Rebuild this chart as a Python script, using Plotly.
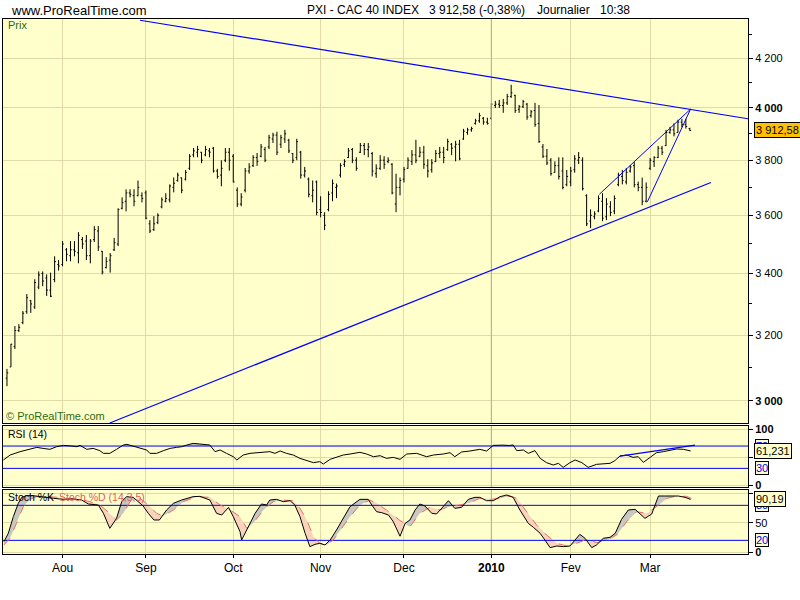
import numpy as np
import plotly.graph_objects as go

# ---------------- data (trading-day index 0 = mid-July 2009 ... 172 = mid-March 2010)
open_ = [3068,3102,3165,3215,3240,3275,3310,3290,3355,3400,3385,3345,3380,3430,3430,3480,3460,3480,3470,3515,
         3510,3460,3515,3545,3475,3420,3445,3480,3500,3625,3650,3680,3670,3670,3670,3680,3570,3550,3575,3630,
         3650,3655,3700,3725,3735,3730,3770,3820,3830,3830,3820,3835,3845,3760,3745,3800,3830,3815,3690,3640,
         3690,3760,3780,3810,3815,3840,3850,3880,3895,3860,3880,3875,3825,3810,3830,3745,3730,3670,3720,3620,
         3600,3620,3680,3700,3745,3785,3810,3840,3800,3830,3855,3840,3825,3750,3770,3800,3795,3785,3640,3700,
         3730,3770,3795,3820,3815,3830,3780,3765,3795,3825,3830,3840,3860,3850,3860,3880,3905,3915,3940,3950,
         3960,3945,3960,4010,4015,4010,4020,4045,4050,3995,4005,4015,3970,3990,3940,3850,3815,3800,3755,3780,
         3760,3710,3720,3765,3800,3800,3670,3580,3595,3615,3650,3595,3630,3615,3710,3740,3720,3760,3780,3710,
         3700,3650,3770,3795,3810,3845,3855,3905,3915,3905,3945,3935,3920]
high = [3096,3173,3229,3235,3277,3332,3313,3381,3407,3407,3397,3403,3458,3445,3510,3486,3510,3510,3541,3524,
        3531,3517,3562,3562,3476,3455,3469,3521,3625,3664,3693,3693,3693,3725,3682,3689,3583,3597,3607,3664,
        3679,3711,3736,3754,3736,3764,3823,3846,3854,3831,3854,3846,3850,3768,3800,3846,3846,3823,3700,3679,
        3771,3789,3819,3827,3861,3850,3896,3904,3908,3896,3915,3881,3827,3881,3835,3775,3736,3725,3725,3668,
        3611,3686,3729,3714,3789,3804,3846,3846,3811,3865,3865,3865,3831,3785,3819,3815,3811,3789,3750,3736,
        3775,3811,3838,3877,3850,3854,3804,3804,3838,3850,3850,3881,3865,3873,3877,3919,3923,3927,3958,3981,
        3965,3962,4020,4028,4032,4036,4056,4092,4052,4012,4032,4020,3992,4020,4012,3861,3842,3808,3796,3811,
        3811,3764,3775,3819,3831,3811,3675,3621,3614,3671,3679,3661,3650,3671,3754,3764,3771,3782,3793,3721,
        3736,3718,3808,3815,3854,3854,3915,3927,3940,3954,3958,3958,3923]
low = [3044,3102,3157,3210,3235,3268,3271,3284,3348,3358,3326,3322,3371,3410,3424,3441,3441,3458,3434,3483,
       3445,3434,3507,3476,3397,3417,3403,3476,3493,3621,3614,3664,3632,3668,3646,3586,3538,3545,3569,3625,
       3646,3646,3682,3721,3679,3725,3764,3811,3811,3789,3815,3811,3754,3732,3704,3793,3761,3718,3629,3632,
       3682,3750,3775,3779,3811,3793,3842,3865,3819,3846,3865,3827,3789,3800,3732,3736,3664,3646,3600,3593,
       3548,3614,3650,3661,3736,3775,3808,3789,3761,3827,3819,3811,3740,3735,3764,3768,3789,3675,3611,3671,
       3718,3768,3782,3789,3811,3768,3736,3754,3793,3808,3789,3835,3819,3796,3800,3877,3896,3908,3935,3942,
       3935,3935,3954,4000,4000,3981,4012,4040,3981,3981,4000,3954,3962,3927,3865,3808,3782,3743,3754,3729,
       3693,3704,3704,3754,3786,3689,3562,3555,3586,3611,3579,3583,3597,3604,3704,3711,3711,3754,3700,3686,
       3636,3646,3764,3775,3808,3819,3854,3900,3890,3905,3925,3920,3911]
close = [3084,3172,3215,3225,3270,3320,3300,3370,3395,3375,3345,3325,3440,3425,3500,3465,3480,3475,3530,3500,
         3460,3510,3550,3490,3405,3440,3460,3505,3620,3645,3680,3675,3650,3700,3660,3590,3545,3570,3600,3655,
         3660,3705,3715,3745,3690,3755,3815,3835,3840,3800,3840,3830,3760,3740,3770,3830,3800,3720,3640,3665,
         3760,3775,3810,3795,3850,3800,3885,3895,3830,3885,3900,3835,3800,3870,3745,3760,3675,3690,3610,3610,
         3565,3675,3715,3705,3780,3795,3835,3800,3770,3855,3840,3850,3760,3770,3800,3785,3800,3680,3700,3725,
         3765,3800,3820,3800,3830,3785,3760,3790,3825,3830,3810,3870,3845,3860,3805,3910,3915,3920,3950,3970,
         3945,3940,4015,4015,4010,4020,4045,4060,3990,4005,4025,3965,3985,3935,3870,3815,3790,3750,3780,3740,
         3700,3740,3760,3805,3810,3695,3570,3600,3605,3660,3590,3640,3610,3660,3745,3725,3755,3775,3710,3700,
         3650,3700,3800,3810,3845,3830,3905,3915,3900,3945,3935,3928,3912.58]
day_index = list(range(len(close)))

month_idx = [14, 35, 57, 79, 100, 122, 142, 162]
month_lbl = ["Aou", "Sep", "Oct", "Nov", "Dec", "2010", "Fev", "Mar"]
year_idx = 122

price_ticks = [3000, 3200, 3400, 3600, 3800, 4000, 4200]
price_bold = [3000, 4000]
price_minor = [3100, 3300, 3500, 3700, 3900, 4100, 4300]

# hand-drawn trend lines (index, price)
down_line_x = [33.5, 186.65]
down_line_y = [4360, 3958]
up_line_x = [25.9, 177.3]
up_line_y = [2936, 3718]
wedge_top_x = [149.2, 172.2]
wedge_top_y = [3675, 3996]
wedge_bot_x = [161.3, 172.2]
wedge_bot_y = [3648, 3996]

# RSI(14)
rsi_x = [-0.9,0.8,3.3,5.8,7.5,9.1,10.8,12.5,14.2,15.9,17.6,18.4,20.1,21.7,23.4,24.3,25.9,27.6,29.3,30.2,
         31.8,33.5,35.2,36.0,37.7,39.4,41.1,42.7,44.0,45.3,46.9,48.6,51.1,52.4,53.7,55.3,57.0,57.9,59.5,61.2,
         62.9,64.6,66.2,67.5,68.8,70.4,72.1,73.8,75.5,77.2,78.8,79.7,81.4,83.0,84.7,86.4,88.9,90.6,92.3,94.0,
         95.6,97.3,99.0,100.7,103.2,105.7,107.4,109.9,111.6,112.8,114.5,116.6,119.1,120.8,122.5,125.0,126.5,127.5,128.4,130.1,
         131.3,133.0,134.3,135.9,137.6,138.9,140.1,141.8,143.1,144.8,146.4,148.5,150.2,151.9,153.1,154.4,156.1,157.7,159.0,160.3,
         162.0,163.6,165.3,167.0,168.7,170.4,172.2]
rsi_v = [45.0,53.9,59.9,64.1,67.6,65.8,64.1,68.8,71.2,70.3,68.8,71.2,64.1,65.8,61.7,56.9,56.9,64.1,71.8,73.0,
         70.0,65.8,62.9,56.9,56.9,61.7,65.8,67.6,68.8,71.8,74.8,73.6,71.8,59.9,62.9,56.9,50.9,45.0,53.9,56.9,
         58.1,58.7,59.9,56.9,61.1,56.9,53.9,47.9,43.8,40.2,42.0,37.8,46.2,49.7,53.9,55.7,58.7,55.7,50.9,52.7,
         47.9,49.7,46.2,55.7,56.9,50.9,53.9,55.7,58.1,50.9,59.3,61.1,64.1,61.1,71.2,71.6,71.0,72.0,61.7,62.9,
         56.9,61.7,47.9,40.2,36.0,39.0,31.8,40.2,45.0,40.2,31.8,37.2,37.8,39.0,43.8,52.1,53.9,49.7,50.9,40.8,
         49.7,58.1,59.9,61.7,64.7,64.1,61.231]
rsi_trend_x = [154.4, 173.3]
rsi_trend_y = [52.1, 71.8]
rsi_levels = [70, 30]

# Stochastic %K / %D (14,3,5)
stk_x = [-0.76,0.34,1.6,2.85,3.7,4.95,6.6,9.15,11.7,14.2,16.7,18.8,20.5,23.0,24.3,25.9,27.6,28.9,30.1,31.8,
         32.7,34.3,35.6,37.0,38.4,40.2,41.9,44.0,46.9,48.6,51.1,52.8,54.1,55.8,57.0,58.7,59.1,60.8,62.5,64.1,
         65.4,66.2,67.9,69.6,71.3,72.5,73.8,75.1,76.3,77.6,78.8,80.1,81.4,83.0,84.7,86.4,88.9,91.0,91.9,93.1,
         94.4,96.1,97.3,99.0,100.3,101.5,102.8,104.0,105.3,107.0,108.2,109.9,111.2,112.8,114.5,116.2,117.9,119.1,120.8,122.5,
         124.2,125.9,127.5,129.2,131.3,132.6,134.3,135.5,136.8,138.5,140.2,141.8,142.7,144.3,145.6,147.3,148.5,150.2,151.9,153.2,
         154.8,156.5,158.2,159.4,160.7,162.4,164.1,165.7,167.4,169.1,170.8,172.2]
stk_v = [17.8,32.0,60.6,83.4,93.7,96.6,96.6,93.7,92.0,90.3,90.9,89.1,82.3,80.6,66.3,40.6,57.7,86.3,94.9,93.7,
         88.0,78.9,66.3,54.9,54.9,72.0,83.4,89.1,94.9,95.4,89.1,66.3,63.4,76.6,60.6,34.9,20.6,43.4,66.3,82.3,
         80.6,89.1,90.3,86.3,88.0,80.6,60.6,32.0,9.2,13.2,14.9,12.1,20.6,37.7,57.7,77.7,90.3,90.3,80.6,69.1,
         67.4,63.4,52.0,27.0,49.2,54.9,72.0,82.3,78.9,66.3,65.2,77.7,88.0,74.9,76.6,90.3,93.7,93.7,88.0,88.0,
         94.9,97.7,93.7,72.0,49.2,42.3,32.0,20.6,7.5,10.3,9.2,10.3,17.8,30.3,23.5,7.5,12.1,23.5,25.2,32.0,
         56.0,72.0,73.2,66.3,57.7,65.2,96.0,96.0,96.0,96.0,93.7,90.19]
std_x = [-0.76,0.76,2.4,4.1,5.8,7.5,10.8,15.0,18.4,20.9,23.4,25.9,27.6,29.3,31.0,33.5,35.6,37.7,39.4,41.9,
         44.4,47.8,51.1,53.7,56.2,58.7,60.4,62.0,64.6,67.1,69.6,72.1,73.8,75.5,77.2,78.8,80.5,82.2,83.9,86.4,
         88.9,91.4,93.1,95.6,99.0,101.5,104.0,106.5,109.1,111.6,114.1,116.6,119.1,121.7,124.2,126.7,128.4,130.9,133.4,135.9,
         138.5,141.0,143.5,146.0,148.5,151.1,153.6,156.1,158.6,161.1,163.6,166.2,168.7,171.2,172.4]
std_v = [12.1,23.5,49.2,77.7,90.3,94.9,94.9,92.0,90.3,86.3,80.6,66.3,54.9,66.3,86.3,92.0,80.6,66.3,61.7,72.0,
         86.3,94.9,93.7,80.6,72.0,60.6,40.6,49.2,72.0,86.3,89.1,88.0,74.9,54.9,26.3,14.9,12.1,20.6,37.7,60.6,
         80.6,89.1,83.4,72.0,54.0,43.5,66.3,76.6,72.0,78.9,80.6,84.6,92.0,90.3,92.0,96.0,92.0,69.1,46.3,29.2,
         14.9,10.3,14.9,21.8,16.1,20.6,29.2,52.0,69.1,66.3,77.7,92.0,96.0,95.4,92.0]
stoch_levels = [80, 20]

last_price = close[-1]
last_rsi = rsi_v[-1]
last_stoch = stk_v[-1]
title_parts = ["PXI - CAC 40 INDEX", "3 912,58 (-0,38%)", "Journalier", "10:38"]

# ---------------- styling / geometry
BG = "#FFFFCC"
GRID = "#E0DAA6"
YEARGRID = "#B2AC82"
BLUE = "#0000FF"
GREEN = "#2E6B10"
FONT = "Liberation Sans, Arial, sans-serif"

X_DOM = [3 / 800, 748 / 800]
Y1 = [1 - 423 / 600, 1 - 19 / 600]
Y2 = [1 - 487 / 600, 1 - 426 / 600]
Y3 = [1 - 554 / 600, 1 - 490 / 600]
XR = [-1.0, 186.65]
PR = [3.46773, 3.64001]   # log10 price range
RR = [-3.4, 105.9]
SR = [-3.4, 106.3]


def px(x):
    return x / 800


def py(y):
    return 1 - y / 600


def fmt_fr(v, d):
    s = f"{v:,.{d}f}"
    return s.replace(",", " ").replace(".", ",")


def fill_above(xs, ys, level):
    X = [xs[0]]
    Y = [max(ys[0], level)]
    for k in range(1, len(xs)):
        d0 = ys[k - 1] - level
        d1 = ys[k] - level
        if d0 * d1 < 0:
            t = d0 / (d0 - d1)
            X.append(xs[k - 1] + t * (xs[k] - xs[k - 1]))
            Y.append(level)
        X.append(xs[k])
        Y.append(max(ys[k], level))
    return X, Y


def between(xa, ya, xb, yb):
    xs = np.union1d(xa, xb)
    xs = xs[(xs >= max(min(xa), min(xb))) & (xs <= min(max(xa), max(xb)))]
    a = np.interp(xs, xa, ya)
    b = np.interp(xs, xb, yb)
    X, A, B = [xs[0]], [a[0]], [b[0]]
    for k in range(1, len(xs)):
        d0 = a[k - 1] - b[k - 1]
        d1 = a[k] - b[k]
        if d0 * d1 < 0:
            t = d0 / (d0 - d1)
            xc = xs[k - 1] + t * (xs[k] - xs[k - 1])
            yc = a[k - 1] + t * (a[k] - a[k - 1])
            X.append(xc); A.append(yc); B.append(yc)
        X.append(xs[k]); A.append(a[k]); B.append(b[k])
    return np.array(X), np.array(A), np.array(B)


def line_trace(x, y, ax, color, width, dash="solid"):
    return go.Scatter(x=x, y=y, mode="lines", line=dict(color=color, width=width, dash=dash),
                      hoverinfo="skip", xaxis=ax[0], yaxis=ax[1])


fig = go.Figure()

# darker year gridline in each panel (drawn first, under the data)
fig.add_trace(line_trace([year_idx, year_idx], [10 ** PR[0], 10 ** PR[1]], ("x", "y"), YEARGRID, 1))
fig.add_trace(line_trace([year_idx, year_idx], RR, ("x2", "y2"), YEARGRID, 1))
fig.add_trace(line_trace([year_idx, year_idx], SR, ("x3", "y3"), YEARGRID, 1))

# price bars
fig.add_trace(go.Ohlc(
    x=day_index, open=open_, high=high, low=low, close=close,
    increasing=dict(line=dict(color="black", width=1)),
    decreasing=dict(line=dict(color="black", width=1)),
    tickwidth=0.32, hoverinfo="skip", xaxis="x", yaxis="y"))

for lx, ly, w in [(down_line_x, down_line_y, 1.2), (up_line_x, up_line_y, 1.2),
                  (wedge_top_x, wedge_top_y, 1), (wedge_bot_x, wedge_bot_y, 1)]:
    fig.add_trace(line_trace(lx, ly, ("x", "y"), BLUE, w))

# RSI
fx, fy = fill_above(rsi_x, rsi_v, rsi_levels[0])
fig.add_trace(go.Scatter(x=fx, y=[rsi_levels[0]] * len(fx), mode="lines", line=dict(width=0),
                         hoverinfo="skip", xaxis="x2", yaxis="y2"))
fig.add_trace(go.Scatter(x=fx, y=fy, mode="lines", line=dict(width=0), fill="tonexty",
                         fillcolor="#C9C1B6", hoverinfo="skip", xaxis="x2", yaxis="y2"))
for lv in rsi_levels:
    fig.add_trace(line_trace(XR, [lv, lv], ("x2", "y2"), BLUE, 1))
fig.add_trace(line_trace(rsi_x, rsi_v, ("x2", "y2"), "black", 1))
fig.add_trace(line_trace(rsi_trend_x, rsi_trend_y, ("x2", "y2"), BLUE, 1.3))

# Stochastic fills
X, A, B = between(stk_x, stk_v, std_x, std_v)
top = np.maximum(A, B)
fig.add_trace(go.Scatter(x=X, y=B, mode="lines", line=dict(width=0), hoverinfo="skip",
                         xaxis="x3", yaxis="y3"))
fig.add_trace(go.Scatter(x=X, y=top, mode="lines", line=dict(width=0), fill="tonexty",
                         fillcolor="#C8C8C0", hoverinfo="skip", xaxis="x3", yaxis="y3"))
fig.add_trace(go.Scatter(x=X, y=A, mode="lines", line=dict(width=0), hoverinfo="skip",
                         xaxis="x3", yaxis="y3"))
fig.add_trace(go.Scatter(x=X, y=top, mode="lines", line=dict(width=0), fill="tonexty",
                         fillcolor="#F8D4BC", hoverinfo="skip", xaxis="x3", yaxis="y3"))
for lv in stoch_levels:
    fig.add_trace(line_trace(XR, [lv, lv], ("x3", "y3"), BLUE, 1))
fig.add_trace(line_trace(std_x, std_v, ("x3", "y3"), "#EE6A6A", 1, "dash"))
fig.add_trace(line_trace(stk_x, stk_v, ("x3", "y3"), "black", 1))

# ---------------- axes
xbase = dict(range=XR, domain=X_DOM, showgrid=True, gridcolor=GRID, gridwidth=1,
             tickmode="array", tickvals=month_idx, zeroline=False, showline=True,
             linecolor="black", linewidth=1, mirror=True, fixedrange=True)
ybase = dict(side="right", showgrid=True, gridcolor=GRID, gridwidth=1, zeroline=False,
             showline=True, linecolor="black", linewidth=1, mirror=True, ticks="outside",
             ticklen=4, tickcolor="black", automargin=False, fixedrange=True,
             tickfont=dict(family=FONT, size=11, color="black"))

tick_txt_x = [("<b>%s</b>" % m) if i == year_idx else m for m, i in zip(month_lbl, month_idx)]

fig.update_layout(
    width=800, height=600, margin=dict(l=0, r=0, t=0, b=0),
    paper_bgcolor="white", plot_bgcolor=BG, showlegend=False,
    xaxis=dict(anchor="y", showticklabels=False, ticks="", rangeslider=dict(visible=False), **xbase),
    xaxis2=dict(anchor="y2", showticklabels=False, ticks="", matches="x", **xbase),
    xaxis3=dict(anchor="y3", showticklabels=True, ticks="outside", ticklen=3, tickcolor="black",
                ticktext=tick_txt_x, matches="x",
                tickfont=dict(family=FONT, size=12, color="black"), **xbase),
    yaxis=dict(domain=Y1, anchor="x", type="log", range=PR, tickmode="array", tickvals=price_ticks,
               ticktext=[("<b>%s</b>" if v in price_bold else "%s") % fmt_fr(v, 0) for v in price_ticks],
               minor=dict(tickmode="array", tickvals=price_minor, ticks="outside", ticklen=3,
                          tickcolor="black", showgrid=False),
               **ybase),
    yaxis2=dict(domain=Y2, anchor="x2", range=RR, tickmode="array",
                tickvals=[0, 50, 100], ticktext=["<b>0</b>", "", "<b>100</b>"], **ybase),
    yaxis3=dict(domain=Y3, anchor="x3", range=SR, tickmode="array",
                tickvals=[0, 50, 100], ticktext=["<b>0</b>", "50", ""], **ybase),
)

# ---------------- annotations
ann = []


def label(x, y, text, size, color="black", xanchor="left", yref="paper", **kw):
    d = dict(xref="paper", yref=yref, x=x, y=y, xanchor=xanchor, yanchor="middle", text=text,
             showarrow=False, font=dict(family=FONT, size=size, color=color))
    d.update(kw)
    return d


ann.append(label(px(9), py(10), "www.ProRealTime.com", 13))
for x0, t in zip([305, 427, 535, 598], title_parts):
    ann.append(label(px(x0), py(10), t, 12))
ann.append(label(px(6), py(25), "Prix", 11, GREEN))
ann.append(label(px(4), py(416), "© ProRealTime.com", 11, GREEN))
ann.append(label(px(6), py(434), "RSI (14)", 10.5))
ann.append(label(px(6), py(497), "Stoch %K", 10.5))
ann.append(label(px(57), py(497), "Stoch %D (14,3,5)", 10.5, "#E06060"))

box = dict(bordercolor="black", borderwidth=1)
ann.append(label(px(754), np.log10(last_price), fmt_fr(last_price, 2), 11, yref="y",
                 bgcolor="#FFC000", borderpad=1, **box))
for lv in rsi_levels:
    ann.append(label(px(755), lv, str(lv), 11, BLUE, yref="y2", bgcolor=BG, borderpad=0, **box))
ann.append(label(px(754), last_rsi, fmt_fr(last_rsi, 3), 11, yref="y2", bgcolor=BG, borderpad=1, **box))
for lv in stoch_levels:
    ann.append(label(px(755), lv, str(lv), 11, BLUE, yref="y3", bgcolor=BG, borderpad=0, **box))
ann.append(label(px(754), last_stoch, fmt_fr(last_stoch, 2), 11, yref="y3", bgcolor=BG, borderpad=1, **box))
fig.update_layout(annotations=ann)

fig.write_html("out.html", config={"displayModeBar": False, "staticPlot": True},
               post_script="document.body.style.margin='0';document.body.style.padding='0';")
